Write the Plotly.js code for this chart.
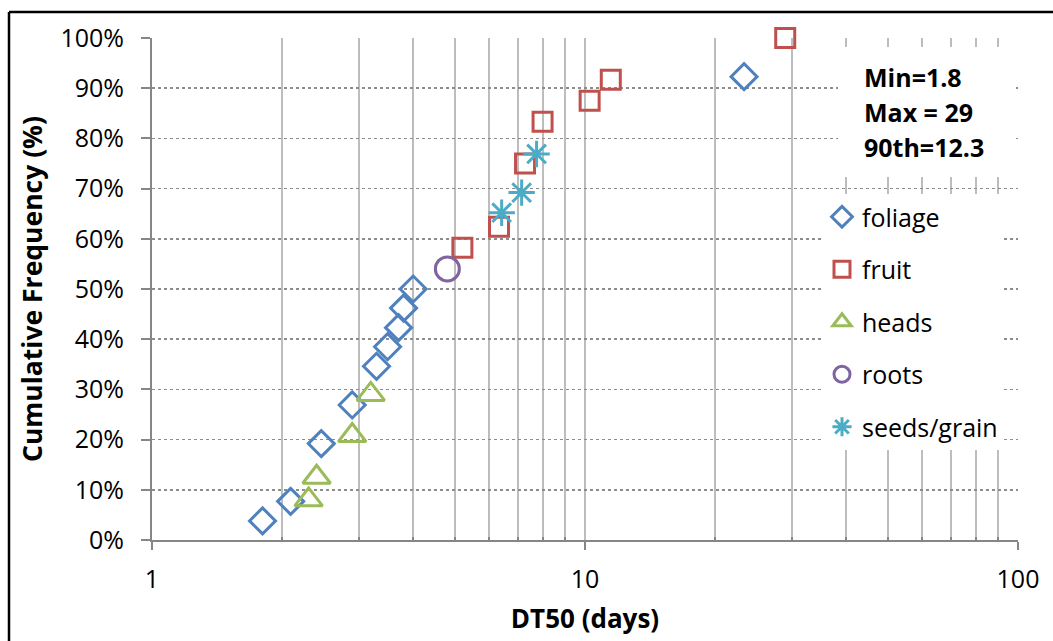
<!DOCTYPE html>
<html>
<head>
<meta charset="utf-8">
<script src="https://cdn.plot.ly/plotly-3.0.1.min.js"></script>
<style>
  html, body { margin: 0; padding: 0; background: #fff; }
  #chart { width: 1053px; height: 641px; }
</style>
</head>
<body>
<div id="chart"></div>
<script>
// ---- data (DT50 in days, cumulative frequency in %) ----
const seriesNames = ["foliage", "fruit", "heads", "roots", "seeds/grain"];

const foliageX = [1.80, 2.09, 2.46, 2.90, 3.30, 3.50, 3.71, 3.81, 4.01, 23.3];
const foliageY = [3.8, 7.7, 19.2, 26.9, 34.6, 38.5, 42.3, 46.2, 50.0, 92.3];

const fruitX = [5.21, 6.33, 7.27, 7.98, 10.25, 11.47, 29.0];
const fruitY = [58.2, 62.4, 75.0, 83.3, 87.5, 91.7, 100.0];

const headsX = [2.30, 2.40, 2.90, 3.20];
const headsY = [8.0, 12.5, 20.8, 29.0];

const rootsX = [4.81];
const rootsY = [54.0];

const seedsX = [6.42, 7.14, 7.73];
const seedsY = [65.2, 69.2, 76.9];

const xMajorTicks = [1, 10, 100];
const xMajorLabels = ["1", "10", "100"];
const xMinorTicks = [2, 3, 4, 5, 6, 7, 8, 9, 20, 30, 40, 50, 60, 70, 80, 90];

const statLines = ["Min=1.8", "Max = 29", "90th=12.3"];

const xTitle = "DT50 (days)";
const yTitle = "Cumulative Frequency (%)";

// ---- styling ----
const FONT = "'Open Sans', Lato, sans-serif";
const colors = ["#4F81BD", "#C0504D", "#9BBB59", "#8064A2", "#4BACC6"];
const symbols = ["diamond-open", "square-open", "triangle-up-open", "circle-open", "asterisk-open"];
const sizes = [20, 19, 24, 24, 22];

const xs = [foliageX, fruitX, headsX, rootsX, seedsX];
const ys = [foliageY, fruitY, headsY, rootsY, seedsY];

const traces = seriesNames.map((name, i) => ({
  type: "scatter",
  mode: "markers",
  name: name,
  legendgroup: name,
  x: xs[i],
  y: ys[i],
  cliponaxis: false,
  marker: {
    symbol: symbols[i],
    size: sizes[i],
    color: colors[i],
    line: { color: colors[i], width: 3 }
  }
}));

// plot-area pixel geometry helpers (for paper coordinates)
const W = 1053, H = 641;
const M = { l: 152, r: 35, t: 38, b: 101 };
const PW = W - M.l - M.r, PH = H - M.t - M.b;
const px = v => (v - M.l) / PW;
const py = v => (H - M.b - v) / PH;

const statY = [77, 112, 147];
const annotations = statLines.map((t, i) => ({
  xref: "paper", yref: "paper",
  x: px(862), y: py(statY[i]),
  xanchor: "left", yanchor: "middle",
  text: "<b>" + t + "</b>",
  showarrow: false,
  font: { family: FONT, size: 25, color: "#000" }
}));

const layout = {
  width: W, height: H,
  margin: M,
  paper_bgcolor: "#fff",
  plot_bgcolor: "#fff",
  font: { family: FONT, size: 25, color: "#000" },
  showlegend: true,
  legend: {
    x: px(822), y: py(194), xanchor: "left", yanchor: "top",
    bgcolor: "#fff",
    borderwidth: 0,
    traceorder: "grouped",
    tracegroupgap: 17,
    font: { family: FONT, size: 25, color: "#000" },
    itemwidth: 30
  },
  xaxis: {
    type: "log",
    range: [0, 2],
    tickmode: "array",
    tickvals: xMajorTicks,
    ticktext: xMajorLabels,
    ticks: "outside",
    ticklen: 8,
    tickwidth: 2,
    tickcolor: "#868686",
    showline: true,
    linecolor: "#868686",
    linewidth: 2,
    showgrid: true,
    gridcolor: "#BDBDBD",
    gridwidth: 2,
    zeroline: false,
    tickfont: { family: FONT, size: 25, color: "#000" },
    ticklabelstandoff: 8,
    minor: {
      tickmode: "array",
      tickvals: xMinorTicks,
      ticks: "inside",
      ticklen: 3,
      tickwidth: 2,
      tickcolor: "#868686",
      showgrid: true,
      gridcolor: "#BDBDBD",
      gridwidth: 2
    },
    title: { text: "<b>" + xTitle + "</b>", font: { family: FONT, size: 26, color: "#000" }, standoff: 16 }
  },
  yaxis: {
    range: [0, 100],
    dtick: 10,
    tick0: 0,
    ticksuffix: "%",
    ticks: "outside",
    ticklen: 9,
    tickwidth: 2,
    tickcolor: "#868686",
    showline: true,
    linecolor: "#868686",
    linewidth: 2,
    showgrid: true,
    gridcolor: "#8C8C8C",
    gridwidth: 1.5,
    griddash: "dot",
    zeroline: false,
    tickfont: { family: FONT, size: 25, color: "#000" },
    ticklabelstandoff: 12,
    title: { text: "<b>" + yTitle + "</b>", font: { family: FONT, size: 26.5, color: "#000" }, standoff: 10 }
  },
  shapes: [
    // white panel behind the statistics text
    { type: "rect", xref: "paper", yref: "paper", layer: "above",
      x0: px(838), x1: px(1016), y0: py(177), y1: py(47),
      fillcolor: "#fff", line: { width: 0 } },
    // outer chart frame (top and left edges visible)
    { type: "line", xref: "paper", yref: "paper",
      x0: px(9), x1: px(1060), y0: py(12), y1: py(12),
      line: { color: "#000", width: 2.5 } },
    { type: "line", xref: "paper", yref: "paper",
      x0: px(9), x1: px(9), y0: py(12), y1: py(660),
      line: { color: "#000", width: 2.5 } }
  ],
  annotations: annotations
};

Plotly.newPlot("chart", traces, layout, { displayModeBar: false, staticPlot: true });
</script>
</body>
</html>
